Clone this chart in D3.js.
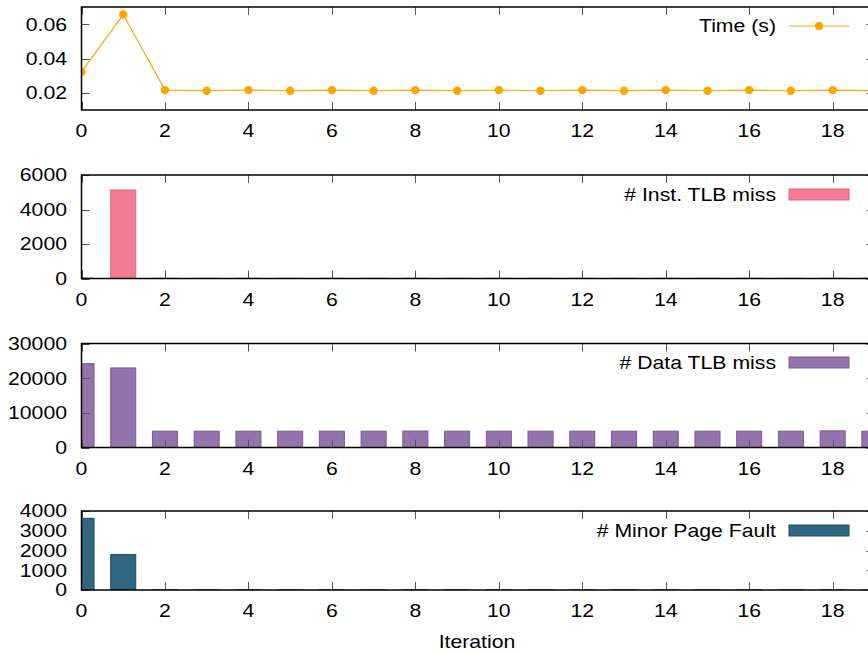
<!DOCTYPE html>
<html>
<head>
<meta charset="utf-8">
<script src="https://cdn.jsdelivr.net/npm/d3@7"></script>
<style>
  html, body { margin: 0; padding: 0; background: #fff; }
  svg { display: block; font-family: "Liberation Sans", Arial, sans-serif; }
</style>
</head>
<body>
<svg id="chart" width="868" height="654"></svg>
<script>
// ---------- data ----------
const iterations = [0, 1, 2, 3, 4, 5, 6, 7, 8, 9, 10, 11, 12, 13, 14, 15, 16, 17, 18, 19];
const xTicks = [0, 2, 4, 6, 8, 10, 12, 14, 16, 18];

const timeValues = [0.0322, 0.0656, 0.0216, 0.0212, 0.0216, 0.0212, 0.0216, 0.0212, 0.0216, 0.0212,
                    0.0216, 0.0212, 0.0216, 0.0212, 0.0216, 0.0212, 0.0216, 0.0212, 0.0216, 0.0212];
const instTlbMiss = [25, 5130, 12, 10, 12, 10, 12, 10, 12, 10, 12, 10, 12, 10, 12, 10, 12, 10, 12, 10];
const dataTlbMiss = [24200, 22950, 4700, 4700, 4700, 4700, 4700, 4700, 4750, 4700,
                     4700, 4700, 4700, 4700, 4700, 4700, 4700, 4700, 4800, 4700];
const minorPageFault = [3630, 1800, 4, 4, 4, 4, 4, 4, 4, 4, 4, 4, 4, 4, 4, 4, 4, 4, 4, 4];

const timeTicks = [0.02, 0.04, 0.06];
const instTicks = [0, 2000, 4000, 6000];
const dataTicks = [0, 10000, 20000, 30000];
const pageTicks = [0, 1000, 2000, 3000, 4000];

// ---------- layout ----------
const svg = d3.select("#chart");
const left = 81.5, right = 874.4;
const x = d3.scaleLinear().domain([0, 19]).range([left, right]);
const barW = x(0.6) - x(0);
const FS = 18, SX = 1.18;

function label(parent, tx, ty, str, anchor) {
  return parent.append("text")
    .attr("transform", `translate(${tx},${ty}) scale(${SX},1)`)
    .attr("dy", "0.36em")
    .attr("text-anchor", anchor).attr("font-size", FS).attr("fill", "#000")
    .text(str);
}

const panels = [
  { id: "p1", top: 7, bottom: 110, domain: [0.01, 0.07], ticks: timeTicks, fmt: d3.format(".2f"),
    type: "line", values: timeValues, color: "#ffa500", label: "Time (s)", legendY: 26 },
  { id: "p2", top: 175, bottom: 278.5, domain: [0, 6000], ticks: instTicks, fmt: d3.format("d"),
    type: "bar", values: instTlbMiss, color: "#f37b93", stroke: "#e45f7c", label: "# Inst. TLB miss", legendY: 194.5 },
  { id: "p3", top: 343.5, bottom: 447.5, domain: [0, 30000], ticks: dataTicks, fmt: d3.format("d"),
    type: "bar", values: dataTlbMiss, color: "#9474ac", stroke: "#7a5894", label: "# Data TLB miss", legendY: 362.5 },
  { id: "p4", top: 511, bottom: 590, domain: [0, 4000], ticks: pageTicks, fmt: d3.format("d"),
    type: "bar", values: minorPageFault, color: "#2f6680", stroke: "#1f4c60", label: "# Minor Page Fault", legendY: 530.5 }
];

const defs = svg.append("defs");

panels.forEach(p => {
  const y = d3.scaleLinear().domain(p.domain).range([p.bottom, p.top]);
  defs.append("clipPath").attr("id", "clip-" + p.id)
    .append("rect").attr("x", left).attr("y", p.top).attr("width", right - left).attr("height", p.bottom - p.top);

  const g = svg.append("g");
  const plot = g.append("g").attr("clip-path", `url(#clip-${p.id})`);

  // ticks (inward, mirrored)
  const tickG = g.append("g").attr("stroke", "#555").attr("stroke-width", 1);
  xTicks.forEach(t => {
    const xx = Math.round(x(t)) + 0.5;
    tickG.append("line").attr("x1", xx).attr("x2", xx).attr("y1", p.bottom).attr("y2", p.bottom - 8);
    tickG.append("line").attr("x1", xx).attr("x2", xx).attr("y1", p.top).attr("y2", p.top + 8);
  });
  p.ticks.forEach(t => {
    const yy = Math.round(y(t)) + 0.5;
    tickG.append("line").attr("x1", left).attr("x2", left + 8).attr("y1", yy).attr("y2", yy);
    tickG.append("line").attr("x1", right).attr("x2", right - 8).attr("y1", yy).attr("y2", yy);
  });

  // data
  if (p.type === "line") {
    const line = d3.line().x((d, i) => x(iterations[i])).y(d => y(d));
    plot.append("path").datum(p.values).attr("d", line)
      .attr("fill", "none").attr("stroke", p.color).attr("stroke-width", 1.2);
    plot.selectAll("circle").data(p.values).join("circle")
      .attr("cx", (d, i) => x(iterations[i])).attr("cy", d => y(d)).attr("r", 4.2)
      .attr("fill", p.color);
  } else {
    plot.selectAll("rect").data(p.values).join("rect")
      .attr("x", (d, i) => x(iterations[i]) - barW / 2)
      .attr("y", d => y(d))
      .attr("width", barW)
      .attr("height", d => Math.max(0, y(0) - y(d)))
      .attr("fill", p.color)
      .attr("stroke", p.stroke).attr("stroke-width", 1);
  }

  // border
  g.append("rect").attr("x", left).attr("y", p.top).attr("width", right - left).attr("height", p.bottom - p.top)
    .attr("fill", "none").attr("stroke", "#000").attr("stroke-width", 1.5);

  // y tick labels
  p.ticks.forEach(t => label(g, 67, y(t), p.fmt(t), "end"));

  // x tick labels
  xTicks.forEach(t => label(g, x(t), p.bottom + 21, String(t), "middle"));

  // legend
  label(g, 776, p.legendY, p.label, "end");
  if (p.type === "line") {
    g.append("line").attr("x1", 789).attr("x2", 849).attr("y1", p.legendY).attr("y2", p.legendY)
      .attr("stroke", p.color).attr("stroke-width", 1.2);
    g.append("circle").attr("cx", 819).attr("cy", p.legendY).attr("r", 4.2).attr("fill", p.color);
  } else {
    g.append("rect").attr("x", 789).attr("y", p.legendY - 5.5).attr("width", 60).attr("height", 11)
      .attr("fill", p.color).attr("stroke", p.stroke).attr("stroke-width", 1);
  }
});

label(svg, 477, 642, "Iteration", "middle");
</script>
</body>
</html>
